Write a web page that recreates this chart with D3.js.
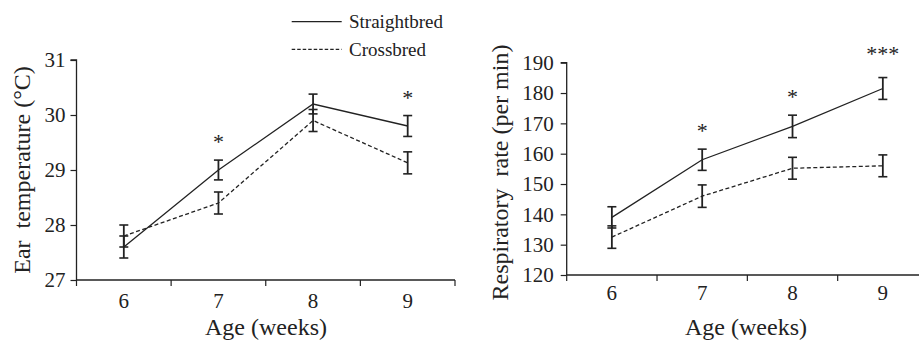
<!DOCTYPE html>
<html><head><meta charset="utf-8">
<script src="https://cdn.jsdelivr.net/npm/d3@7"></script>
<style>
html,body{margin:0;padding:0;background:#fff;}
</style></head>
<body>
<svg id="c" width="919" height="342" style="font-family:'Liberation Serif','Times New Roman',Times,serif"></svg>
<script>
const weeks = ["6","7","8","9"];
const seriesNames = ["Straightbred","Crossbred"];

// Ear temperature (°C)
const earStraight = [27.6, 29.0, 30.2, 29.8];
const earStraightErr = [0.2, 0.18, 0.18, 0.19];
const earCross = [27.8, 28.4, 29.9, 29.13];
const earCrossErr = [0.2, 0.2, 0.2, 0.2];
const earSig = ["", "*", "", "*"];
const earTicks = [27, 28, 29, 30, 31];

// Respiratory rate (per min)
const respStraight = [139, 158, 169, 181.5];
const respStraightErr = [3.5, 3.5, 3.7, 3.6];
const respCross = [132.5, 146, 155.2, 156];
const respCrossErr = [3.7, 3.7, 3.6, 3.6];
const respSig = ["", "*", "*", "***"];
const respTicks = [120, 130, 140, 150, 160, 170, 180, 190];

const FONT = "'Liberation Serif','Times New Roman',Times,serif";
const svg = d3.select("#c");
const ink = "#222";

function txt(sel){ return sel.attr("font-family", FONT).style("font-family", FONT).attr("fill", ink); }

function panel(cfg){
  const g = svg.append("g");
  const x = d3.scaleBand().domain(weeks).range([cfg.x0, cfg.x1]).padding(0);
  const y = d3.scaleLinear().domain(cfg.domain).range([cfg.y0, cfg.y1]);

  // y axis
  const ya = g.append("g").attr("transform",`translate(${cfg.x0},0)`)
    .call(d3.axisLeft(y).tickValues(cfg.ticks).tickSize(6).tickPadding(cfg.yPad).tickFormat(d3.format("d")));
  ya.attr("font-family", null).attr("font-size", null);
  ya.select(".domain").attr("stroke",ink).attr("stroke-width",1.3).attr("d",`M-6,${cfg.y1}H0V${cfg.y0}`);
  ya.selectAll(".tick line").attr("stroke",ink).attr("stroke-width",1.2);
  txt(ya.selectAll("text")).attr("font-size",21);

  // x axis: ticks at band boundaries
  const xa = g.append("g").attr("transform",`translate(0,${cfg.y0})`);
  xa.append("line").attr("x1",cfg.x0).attr("x2",cfg.x1).attr("stroke",ink).attr("stroke-width",1.3);
  const bounds = weeks.map(w=>x(w)).concat([x(weeks[weeks.length-1])+x.bandwidth()]);
  xa.selectAll("line.t").data(bounds).enter().append("line").attr("class","t")
    .attr("x1",d=>d).attr("x2",d=>d).attr("y1",0).attr("y2",6).attr("stroke",ink).attr("stroke-width",1.2);
  txt(g.selectAll("text.xl").data(weeks).enter().append("text").attr("class","xl")
    .attr("x",d=>x(d)+x.bandwidth()/2).attr("y",cfg.xLabY)
    .attr("text-anchor","middle").attr("font-size",21).text(d=>d));

  const cx = d => x(d)+x.bandwidth()/2;

  const series = [
    {v:cfg.s, e:cfg.se, dash:null},
    {v:cfg.c, e:cfg.ce, dash:"4,2.5"}
  ];
  series.forEach(s=>{
    const line = d3.line().x((d,i)=>cx(weeks[i])).y(d=>y(d));
    g.append("path").attr("d",line(s.v)).attr("fill","none").attr("stroke",ink)
      .attr("stroke-width",1.3).attr("stroke-dasharray",s.dash);
    const eb = g.append("g");
    s.v.forEach((v,i)=>{
      const xc = cx(weeks[i]);
      const t = y(v+s.e[i]), b = y(v-s.e[i]);
      eb.append("line").attr("x1",xc).attr("x2",xc).attr("y1",t).attr("y2",b).attr("stroke",ink).attr("stroke-width",1.8);
      [t,b].forEach(yy=>eb.append("line").attr("x1",xc-4.5).attr("x2",xc+4.5).attr("y1",yy).attr("y2",yy).attr("stroke",ink).attr("stroke-width",1.6));
    });
  });

  // significance marks
  txt(g.selectAll("text.sig").data(cfg.sig).enter().append("text").attr("class","sig")
    .attr("x",(d,i)=>cx(weeks[i]))
    .attr("y",(d,i)=>y(Math.max(cfg.s[i]+cfg.se[i], cfg.c[i]+cfg.ce[i])) - 22 + 11 - (d.length>1 ? 6 : 0))
    .attr("text-anchor","middle").attr("font-size",22).attr("fill","#444").text(d=>d));

  // titles
  txt(g.append("text").attr("x",cfg.xTitleX).attr("y",335).attr("text-anchor","middle")
    .attr("font-size",24).text("Age (weeks)"));
  txt(g.append("text").attr("transform",`translate(${cfg.yTitleX},${cfg.yTitleY}) rotate(-90)`)
    .attr("text-anchor","middle").attr("font-size",24).style("white-space","pre").text(cfg.yTitle));
}

panel({x0:76.5, x1:455, y0:280, y1:60, domain:[27,31], ticks:earTicks, yPad:5,
  xLabY:308, s:earStraight, se:earStraightErr, c:earCross, ce:earCrossErr, sig:earSig,
  xTitleX:266, yTitleX:30, yTitleY:170, yTitle:"Ear  temperature (°C)"});

panel({x0:566.7, x1:928, y0:275, y1:62.7, domain:[120,190], ticks:respTicks, yPad:7,
  xLabY:300, s:respStraight, se:respStraightErr, c:respCross, ce:respCrossErr, sig:respSig,
  xTitleX:746, yTitleX:508, yTitleY:172.5, yTitle:"Respiratory  rate (per min)"});

// legend
const leg = svg.append("g");
seriesNames.forEach((n,i)=>{
  const yy = 21.7 + i*27.6;
  leg.append("line").attr("x1",291.7).attr("x2",341.7).attr("y1",yy).attr("y2",yy)
    .attr("stroke",ink).attr("stroke-width",1.3).attr("stroke-dasharray", i===1 ? "3.5,2" : null);
  txt(leg.append("text").attr("x",349).attr("y",yy+6.5).attr("font-size",19).text(n));
});
</script>
</body></html>
